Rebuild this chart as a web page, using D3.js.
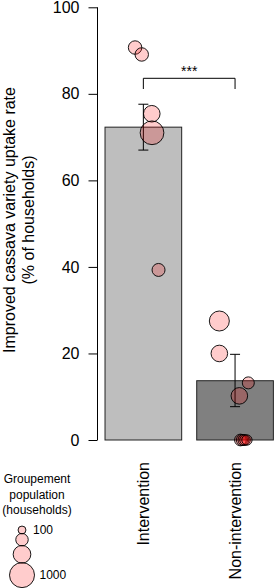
<!DOCTYPE html>
<html>
<head>
<meta charset="utf-8">
<script src="https://cdn.jsdelivr.net/npm/d3@7"></script>
<style>
  html, body { margin: 0; padding: 0; background: #fff; }
  svg { display: block; font-family: "Liberation Sans", Arial, sans-serif; }
</style>
</head>
<body>
<svg id="chart" width="275" height="588"></svg>
<script>
// ---- data ----
const categories = ["Intervention", "Non-intervention"];
const barMeans = [72.3, 13.7];
const errLow = [67.0, 7.7];
const errHigh = [77.6, 19.8];
const yTicks = [0, 20, 40, 60, 80, 100];

// individual groupements
const pointGroup = [0, 0, 0, 0, 0, 1, 1, 1, 1, 1, 1, 1, 1, 1];
const pointValue = [90.7, 89.1, 75.4, 71.0, 39.3, 27.5, 20.0, 13.2, 10.2, 0, 0, 0, 0, 0];
const pointPop   = [290, 290, 440, 900, 270, 640, 440, 230, 440, 220, 200, 190, 180, 170];
const pointJitter = [-0.108, -0.021, 0.110, 0.113, 0.198, -0.205, -0.205, 0.173, 0.056, 0.07, 0.09, 0.11, 0.13, 0.155];

const legendPops = [100, 250, 500, 1000];
const legendLabels = ["100", "", "", "1000"];
const sigLabel = "***";

// ---- drawing ----
const svg = d3.select("#chart");
const y = d3.scaleLinear().domain([0, 100]).range([440, 7.3]);
const x = d3.scaleBand().domain(categories).range([97.5, 280.9])
  .paddingInner(0.164).paddingOuter(0.082);
const r = d3.scaleSqrt().domain([0, 1000]).range([0, 12.5]);
const ptFill = "rgba(255,0,0,0.2)";

// bars
const barFills = ["#bebebe", "#808080"];
svg.append("g").selectAll("rect").data(categories).join("rect")
  .attr("x", d => x(d))
  .attr("width", x.bandwidth())
  .attr("y", (d, i) => y(barMeans[i]))
  .attr("height", (d, i) => y(0) - y(barMeans[i]))
  .attr("fill", (d, i) => barFills[i])
  .attr("stroke", "#222")
  .attr("stroke-width", 1);

// error bars
const eb = svg.append("g").attr("stroke", "#000").attr("stroke-width", 1).attr("fill", "none");
categories.forEach((c, i) => {
  const cx = x(c) + x.bandwidth() / 2;
  eb.append("line").attr("x1", cx).attr("x2", cx).attr("y1", y(errLow[i])).attr("y2", y(errHigh[i]));
  eb.append("line").attr("x1", cx - 5).attr("x2", cx + 5).attr("y1", y(errLow[i])).attr("y2", y(errLow[i]));
  eb.append("line").attr("x1", cx - 5).attr("x2", cx + 5).attr("y1", y(errHigh[i])).attr("y2", y(errHigh[i]));
});

// points
svg.append("g").selectAll("circle").data(pointValue).join("circle")
  .attr("cx", (d, i) => x(categories[pointGroup[i]]) + x.bandwidth() / 2 + pointJitter[i] * x.bandwidth())
  .attr("cy", d => y(d))
  .attr("r", (d, i) => r(pointPop[i]))
  .attr("fill", ptFill)
  .attr("stroke", "#000")
  .attr("stroke-width", 0.9);

// y axis
const yAxis = d3.axisLeft(y).tickValues(yTicks).tickSize(9).tickPadding(9).tickFormat(d3.format("d"));
const ga = svg.append("g").attr("transform", "translate(97.5,0)").call(yAxis);
ga.select(".domain").attr("d", `M0,${y(0)}V${y(100)}`).attr("stroke", "#000");
ga.selectAll(".tick line").attr("stroke", "#000");
ga.selectAll(".tick text").attr("font-size", 16).attr("fill", "#000")
  .attr("font-family", "Liberation Sans, Arial, sans-serif");

// y title
const yt = svg.append("text").attr("transform", "translate(15,220) rotate(-90)")
  .attr("text-anchor", "middle").attr("font-size", 16).attr("fill", "#000");
yt.append("tspan").attr("x", 0).attr("y", 0).text("Improved cassava variety uptake rate");
yt.append("tspan").attr("x", 0).attr("y", 19).text("(% of households)");

// x labels
categories.forEach(c => {
  const cx = x(c) + x.bandwidth() / 2;
  svg.append("text").attr("transform", `translate(${cx + 5.8},462) rotate(-90)`)
    .attr("text-anchor", "end").attr("font-size", 16).attr("fill", "#000").text(c);
});

// significance bracket
const c1 = x(categories[0]) + x.bandwidth() / 2, c2 = x(categories[1]) + x.bandwidth() / 2;
svg.append("path")
  .attr("d", `M${c1},89V78.3H${c2}V89`)
  .attr("fill", "none").attr("stroke", "#000").attr("stroke-width", 1);
svg.append("text").attr("x", (c1 + c2) / 2).attr("y", 76).attr("text-anchor", "middle")
  .attr("font-size", 14).attr("fill", "#000").text(sigLabel);

// legend
const lg = svg.append("g");
const ltitle = lg.append("text").attr("text-anchor", "middle").attr("font-size", 12).attr("fill", "#000");
["Groupement", "population", "(households)"].forEach((t, i) => {
  ltitle.append("tspan").attr("x", 37).attr("y", 483 + i * 15.5).text(t);
});
let cy = 530;
const lcy = legendPops.map((p, i) => {
  if (i > 0) cy += r(legendPops[i - 1]) + r(p) - 0.5;
  return cy;
});
lg.selectAll("circle").data(legendPops).join("circle")
  .attr("cx", 22).attr("cy", (d, i) => lcy[i]).attr("r", d => r(d))
  .attr("fill", ptFill).attr("stroke", "#000").attr("stroke-width", 0.9);
lg.selectAll("text.lab").data(legendLabels).join("text").attr("class", "lab")
  .attr("x", (d, i) => 22 + Math.max(r(legendPops[i]) + 5, 11))
  .attr("y", (d, i) => lcy[i] + 4.3)
  .attr("font-size", 12).attr("fill", "#000").text(d => d);
</script>
</body>
</html>
